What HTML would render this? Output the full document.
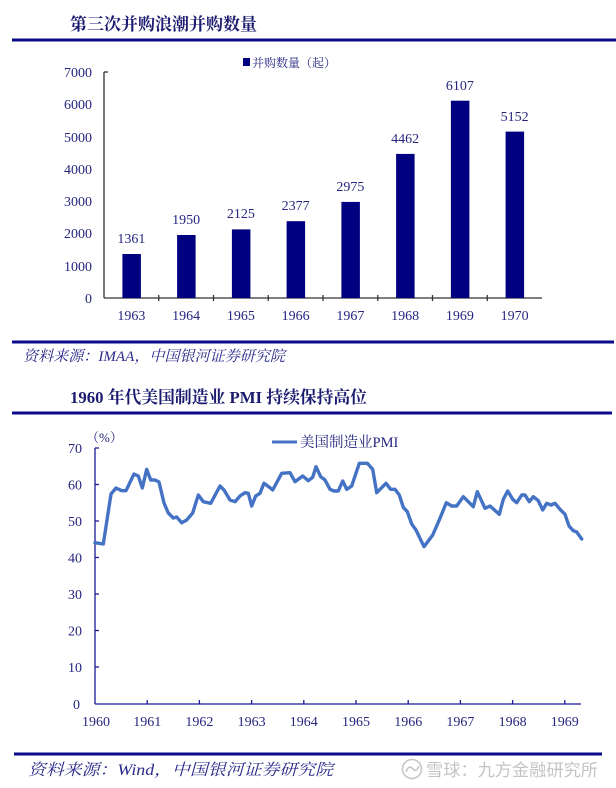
<!DOCTYPE html>
<html><head><meta charset="utf-8"><style>
html,body{margin:0;padding:0;background:#fff;}
svg{display:block;}
.t{font-family:"Liberation Serif","Noto Serif CJK SC",serif;}
</style></head><body>
<svg width="616" height="788" viewBox="0 0 616 788" xmlns="http://www.w3.org/2000/svg">
<rect width="616" height="788" fill="#fff"/>
<!-- Title 1 -->
<text class="t" x="70" y="30" font-size="17" font-weight="bold" fill="#1b1b70">第三次并购浪潮并购数量</text>
<line x1="12" y1="40" x2="616" y2="40" stroke="#0a0a8a" stroke-width="3"/>

<!-- Bar chart legend -->
<rect x="243" y="58" width="7" height="8" fill="#000080"/>
<text class="t" x="252" y="67" font-size="12" fill="#262680">并购数量（起）</text>

<!-- Bar chart axes -->
<g stroke="#333" stroke-width="1.3">
<line x1="104" y1="72" x2="104" y2="298"/>
<line x1="104" y1="72" x2="108" y2="72"/>
<line x1="104" y1="298" x2="542" y2="298"/>
<line x1="158.75" y1="295" x2="158.75" y2="301"/>
<line x1="213.5" y1="295" x2="213.5" y2="301"/>
<line x1="268.25" y1="295" x2="268.25" y2="301"/>
<line x1="323" y1="295" x2="323" y2="301"/>
<line x1="377.75" y1="295" x2="377.75" y2="301"/>
<line x1="432.5" y1="295" x2="432.5" y2="301"/>
<line x1="487.25" y1="295" x2="487.25" y2="301"/>
</g>
<g class="t" font-size="14" fill="#262680" text-anchor="end">
<text x="92" y="77">7000</text>
<text x="92" y="109">6000</text>
<text x="92" y="142">5000</text>
<text x="92" y="174">4000</text>
<text x="92" y="206">3000</text>
<text x="92" y="238">2000</text>
<text x="92" y="271">1000</text>
<text x="92" y="303">0</text>
</g>
<g fill="#000080">
<rect x="122.4" y="254.0" width="18.5" height="44.0"/>
<rect x="177.1" y="235.0" width="18.5" height="63.0"/>
<rect x="231.9" y="229.4" width="18.5" height="68.6"/>
<rect x="286.6" y="221.2" width="18.5" height="76.8"/>
<rect x="341.4" y="201.9" width="18.5" height="96.1"/>
<rect x="396.1" y="153.9" width="18.5" height="144.1"/>
<rect x="450.9" y="100.7" width="18.5" height="197.3"/>
<rect x="505.6" y="131.6" width="18.5" height="166.4"/>
</g>
<g class="t" font-size="14" fill="#262680" text-anchor="middle">
<text x="131.4" y="243">1361</text>
<text x="186.1" y="224">1950</text>
<text x="240.9" y="218">2125</text>
<text x="295.6" y="210">2377</text>
<text x="350.4" y="191">2975</text>
<text x="405.1" y="143">4462</text>
<text x="459.9" y="90">6107</text>
<text x="514.6" y="121">5152</text>
<text x="131.4" y="320">1963</text>
<text x="186.1" y="320">1964</text>
<text x="240.9" y="320">1965</text>
<text x="295.6" y="320">1966</text>
<text x="350.4" y="320">1967</text>
<text x="405.1" y="320">1968</text>
<text x="459.9" y="320">1969</text>
<text x="514.6" y="320">1970</text>
</g>

<!-- Source 1 -->
<line x1="12" y1="342" x2="614" y2="342" stroke="#0a0a8a" stroke-width="3"/>
<text class="t" x="23" y="361" font-size="15" font-style="italic" fill="#2a2a8a" textLength="262" lengthAdjust="spacingAndGlyphs">资料来源：IMAA，中国银河证券研究院</text>

<!-- Title 2 -->
<text class="t" x="70" y="403" font-size="17" font-weight="bold" fill="#1b1b70" textLength="297" lengthAdjust="spacingAndGlyphs">1960 年代美国制造业 PMI 持续保持高位</text>
<line x1="12" y1="413" x2="612" y2="413" stroke="#0a0a8a" stroke-width="3"/>

<!-- Line chart -->
<text class="t" x="86" y="442" font-size="13" fill="#262680">（%）</text>
<line x1="272" y1="442" x2="297" y2="442" stroke="#4472c4" stroke-width="3"/>
<text class="t" x="300" y="447" font-size="14.5" fill="#262680">美国制造业PMI</text>

<g stroke="#1a1a9a" stroke-width="1.3">
<line x1="95" y1="448" x2="95" y2="704"/>
<line x1="95" y1="704" x2="581" y2="704"/>
<line x1="95" y1="448" x2="99" y2="448"/>
<line x1="95" y1="484.5" x2="99" y2="484.5"/>
<line x1="95" y1="521" x2="99" y2="521"/>
<line x1="95" y1="557.5" x2="99" y2="557.5"/>
<line x1="95" y1="594" x2="99" y2="594"/>
<line x1="95" y1="630.5" x2="99" y2="630.5"/>
<line x1="95" y1="667" x2="99" y2="667"/>
<line x1="147.2" y1="700" x2="147.2" y2="704"/>
<line x1="199.4" y1="700" x2="199.4" y2="704"/>
<line x1="251.6" y1="700" x2="251.6" y2="704"/>
<line x1="303.8" y1="700" x2="303.8" y2="704"/>
<line x1="356" y1="700" x2="356" y2="704"/>
<line x1="408.2" y1="700" x2="408.2" y2="704"/>
<line x1="460.4" y1="700" x2="460.4" y2="704"/>
<line x1="512.6" y1="700" x2="512.6" y2="704"/>
<line x1="564.8" y1="700" x2="564.8" y2="704"/>
</g>
<g class="t" font-size="14" fill="#262680" text-anchor="end">
<text x="82" y="453">70</text>
<text x="82" y="489.5">60</text>
<text x="82" y="526">50</text>
<text x="82" y="562.5">40</text>
<text x="82" y="599">30</text>
<text x="82" y="635.5">20</text>
<text x="82" y="672">10</text>
<text x="80" y="709">0</text>
</g>
<g class="t" font-size="14" fill="#262680" text-anchor="middle">
<text x="96" y="726">1960</text>
<text x="147.2" y="726">1961</text>
<text x="199.4" y="726">1962</text>
<text x="251.6" y="726">1963</text>
<text x="303.8" y="726">1964</text>
<text x="356" y="726">1965</text>
<text x="408.2" y="726">1966</text>
<text x="460.4" y="726">1967</text>
<text x="512.6" y="726">1968</text>
<text x="564.8" y="726">1969</text>
</g>
<polyline fill="none" stroke="#4472c4" stroke-width="3.4" stroke-linejoin="round" stroke-linecap="round" points="95,542.7 103.3,544 111,494 116,488 121.7,490.7 126,490.7 134,474 138.3,476 142.3,488 146.7,469.3 150.7,480 155,480 159,482 164,503 168.3,513 173.3,518 176.7,517 181.7,522.7 186.7,520 192.7,513 198.3,495 203.3,501.7 210.7,503.3 220,486 224,490 230,500 235,501.7 240,496 245,492.7 248.3,493.3 251.7,506 255.7,496 260,493.3 264,483.3 268.7,486.7 272.7,490 281.7,473.3 290,472.7 295,481.7 302.7,476 308.3,480.7 312.7,477.3 316,466.7 320.7,476.7 325,480 330,489.3 334,491 338.3,491 342.7,481 346.7,489.3 351.7,486 359.3,463.3 367.3,463.3 372.7,469.3 376.7,492.7 386,483.3 390.7,489.3 395,489.3 399.3,495 403.3,507.3 407.3,511.7 411.7,524 416,530 424,546.7 432.7,535 440,518.3 446.3,502.7 451.7,506 456.7,506 463.3,496.7 473.3,506.7 477.3,491.7 485,508.3 490,506 499.3,514.3 503.3,499.3 507.7,491 512.7,499.3 516.7,502.7 521.7,495 525,495 529.3,501.7 533.3,496.7 538.3,500.7 542.7,510 546.7,503.3 551,505 555,503.3 560,509.3 565,514.3 569,526 573.3,530.7 576.7,532 581.7,539"/>

<!-- Footer -->
<line x1="14" y1="754" x2="602" y2="754" stroke="#0a0a8a" stroke-width="3"/>
<text class="t" x="28" y="775" font-size="16" font-style="italic" fill="#2a2a8a" textLength="305" lengthAdjust="spacingAndGlyphs">资料来源：Wind，中国银河证券研究院</text>
<circle cx="412" cy="769" r="9.5" fill="none" stroke="#c4c4c4" stroke-width="1.5"/>
<path d="M406,772 q3,-8 7,-3 q3,4 6,-3" fill="none" stroke="#c4c4c4" stroke-width="1.5"/>
<text x="426" y="776" font-family="'Noto Sans CJK SC','WenQuanYi Zen Hei',sans-serif" font-size="17" fill="#c4c4c4" textLength="172" lengthAdjust="spacingAndGlyphs">雪球：九方金融研究所</text>
</svg>
</body></html>
